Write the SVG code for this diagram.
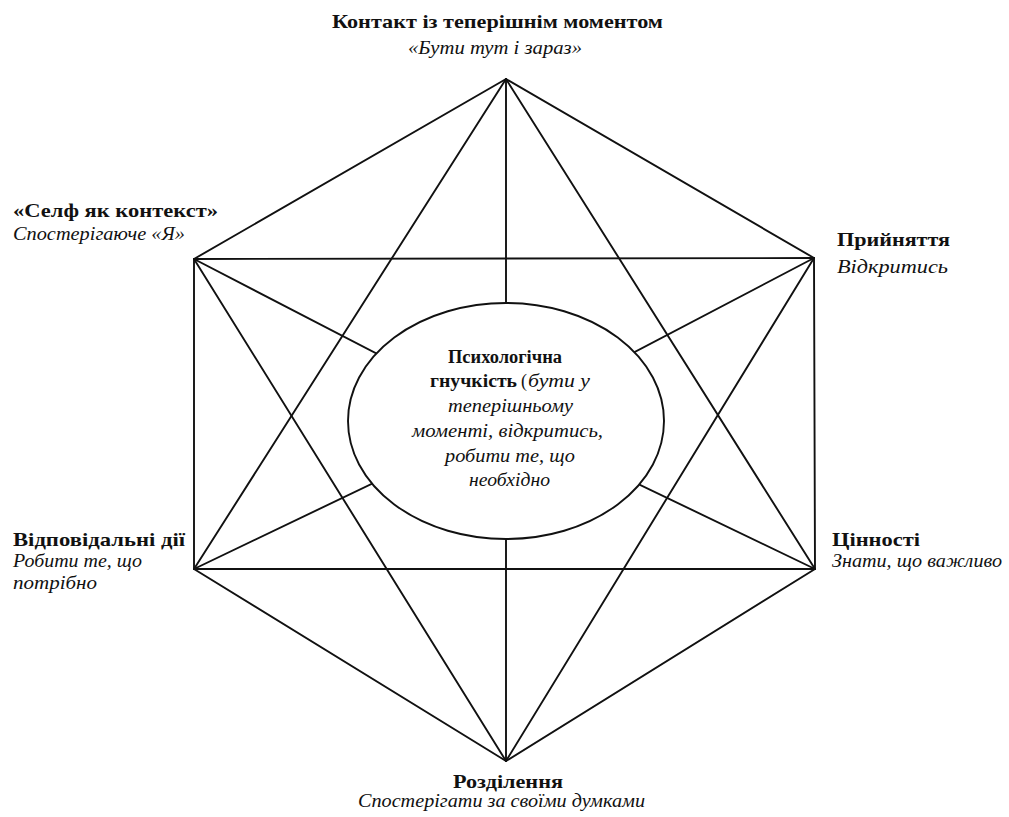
<svg xmlns="http://www.w3.org/2000/svg" width="1009" height="817" viewBox="0 0 1009 817">
<style>
.ln{stroke:#111;stroke-width:1.9;fill:none;stroke-linecap:round}
.t{font-family:"Liberation Serif","DejaVu Serif",serif;fill:#111}
.b{font-weight:bold;font-size:19px}
.i{font-style:italic;font-size:18px}
.c{font-size:18px}
</style>
<rect width="1009" height="817" fill="#fff"/>
<g id="connectors">
<line class="ln" x1="506" y1="79" x2="194" y2="259"/>
<line class="ln" x1="506" y1="79" x2="814" y2="258"/>
<line class="ln" x1="194" y1="259" x2="194" y2="569"/>
<line class="ln" x1="814" y1="258" x2="815" y2="569"/>
<line class="ln" x1="194" y1="569" x2="506" y2="761"/>
<line class="ln" x1="815" y1="569" x2="506" y2="761"/>
<line class="ln" x1="194" y1="259" x2="814" y2="258"/>
<line class="ln" x1="194" y1="569" x2="815" y2="569"/>
<line class="ln" x1="506" y1="79" x2="194" y2="569"/>
<line class="ln" x1="506" y1="79" x2="815" y2="569"/>
<line class="ln" x1="506" y1="761" x2="194" y2="259"/>
<line class="ln" x1="506" y1="761" x2="814" y2="258"/>
<line class="ln" x1="506" y1="79" x2="506" y2="420"/>
<line class="ln" x1="506" y1="761" x2="506" y2="420"/>
<line class="ln" x1="194" y1="259" x2="505" y2="420"/>
<line class="ln" x1="814" y1="258" x2="505" y2="420"/>
<line class="ln" x1="194" y1="569" x2="505" y2="420"/>
<line class="ln" x1="815" y1="569" x2="505" y2="420"/>
</g>
<g id="center">
<ellipse cx="506" cy="421" rx="158" ry="118" fill="#fff" stroke="#111" stroke-width="1.9"/>
<text class="t c" x="448" y="363" font-weight="bold" textLength="114" lengthAdjust="spacingAndGlyphs">Психологічна</text>
<text class="t c" x="430" y="387" font-weight="bold" textLength="87" lengthAdjust="spacingAndGlyphs">гнучкість</text>
<text class="t c" x="521" y="387">(</text>
<text class="t i" x="528" y="387" textLength="62" lengthAdjust="spacingAndGlyphs">бути у</text>
<text class="t i" x="448" y="412" textLength="125" lengthAdjust="spacingAndGlyphs">теперішньому</text>
<text class="t i" x="412" y="437" textLength="191" lengthAdjust="spacingAndGlyphs">моменті, відкритись,</text>
<text class="t i" x="445" y="462" textLength="130" lengthAdjust="spacingAndGlyphs">робити те, що</text>
<text class="t i" x="469" y="486" textLength="81" lengthAdjust="spacingAndGlyphs">необхідно</text>
</g>
<g id="node-top">
<text class="t b" x="332" y="28" textLength="331" lengthAdjust="spacingAndGlyphs">Контакт із теперішнім моментом</text>
<text class="t i" x="408" y="54" textLength="174" lengthAdjust="spacingAndGlyphs">«Бути тут і зараз»</text>
</g>
<g id="node-upper-left">
<text class="t b" x="13" y="217" textLength="205" lengthAdjust="spacingAndGlyphs">«Селф як контекст»</text>
<text class="t i" x="13" y="240" textLength="172" lengthAdjust="spacingAndGlyphs">Спостерігаюче «Я»</text>
</g>
<g id="node-upper-right">
<text class="t b" x="837" y="246" textLength="113" lengthAdjust="spacingAndGlyphs">Прийняття</text>
<text class="t i" x="837" y="273" textLength="111" lengthAdjust="spacingAndGlyphs">Відкритись</text>
</g>
<g id="node-lower-left">
<text class="t b" x="13" y="546" textLength="172" lengthAdjust="spacingAndGlyphs">Відповідальні дії</text>
<text class="t i" x="13" y="567" textLength="129" lengthAdjust="spacingAndGlyphs">Робити те, що</text>
<text class="t i" x="13" y="589" textLength="84" lengthAdjust="spacingAndGlyphs">потрібно</text>
</g>
<g id="node-lower-right">
<text class="t b" x="832" y="546" textLength="88" lengthAdjust="spacingAndGlyphs">Цінності</text>
<text class="t i" x="832" y="567" textLength="170" lengthAdjust="spacingAndGlyphs">Знати, що важливо</text>
</g>
<g id="node-bottom">
<text class="t b" x="453" y="788" textLength="110" lengthAdjust="spacingAndGlyphs">Розділення</text>
<text class="t i" x="358" y="807" textLength="287" lengthAdjust="spacingAndGlyphs">Спостерігати за своїми думками</text>
</g>
</svg>
